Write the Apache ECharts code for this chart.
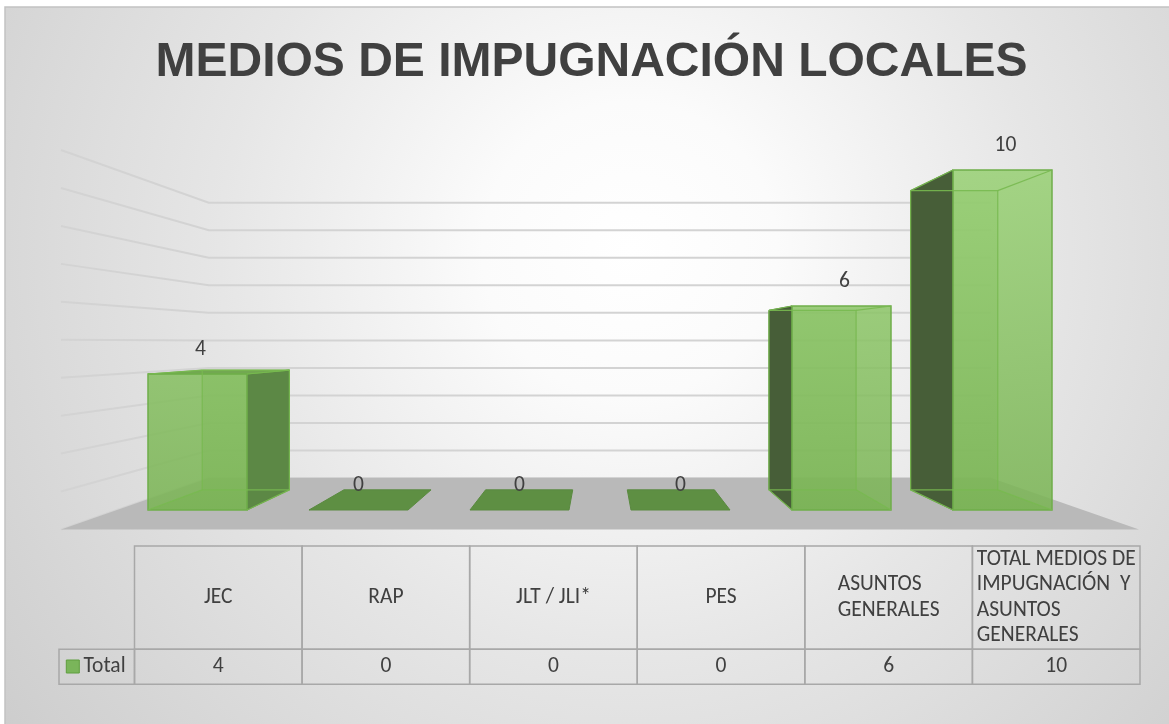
<!DOCTYPE html>
<html>
<head>
<meta charset="utf-8">
<script src="https://cdn.jsdelivr.net/npm/echarts@6/dist/echarts.min.js"></script>
<style>
html,body{margin:0;padding:0;background:#ffffff;}
#c{width:1169px;height:724px;}
</style>
</head>
<body>
<div id="c"></div>
<script>
// ---------------- data ----------------
const chartTitle = 'MEDIOS DE IMPUGNACIÓN LOCALES';
const categories = ['JEC', 'RAP', 'JLT / JLI*', 'PES', 'ASUNTOS GENERALES', 'TOTAL MEDIOS DE IMPUGNACIÓN  Y ASUNTOS GENERALES'];
const tableLabels = ['JEC', 'RAP', 'JLT / JLI*', 'PES', 'ASUNTOS\nGENERALES', 'TOTAL MEDIOS DE\nIMPUGNACIÓN  Y\nASUNTOS\nGENERALES'];
const seriesName = 'Total';
const totals = [4, 0, 0, 0, 6, 10];
const gridTicks = [0, 1, 2, 3, 4, 5, 6, 7, 8, 9, 10];

// ---------------- style / layout ----------------
const BODY_FONT_FAMILY = 'Carlito, Lato, "Open Sans", sans-serif';
const BODY_SIZE = 21.5;
const TEXT_COLOR = '#404040';
const DEPTH_WALL = 0.81;   // back wall depth scale
const DEPTH_BAR_BACK = 0.88;
const DEPTH_FLOOR_FRONT = 1.116;
const BAR_RATIO = 0.615;
const VP_DY = 2;
const TABLE = { legendLeft: 59, left: 134.5, right: 1140, top: 546, rowSep: 649.3, bottom: 684.3, lineH: 25.5 };

const chart = echarts.init(document.getElementById('c'), null, { renderer: 'canvas' });

function vpOf(cs) { return [cs.x + cs.width / 2, cs.y + cs.height / 2 + VP_DY]; }
function proj(vp, x, y, s) { return [vp[0] + s * (x - vp[0]), vp[1] + s * (y - vp[1])]; }

function renderGridline(params, api) {
  const cs = params.coordSys;
  const vp = vpOf(cs);
  const y = api.coord([0, api.value(1)])[1];
  const a = proj(vp, cs.x + cs.width, y, DEPTH_WALL);
  const b = proj(vp, cs.x, y, DEPTH_WALL);
  const c = proj(vp, cs.x, y, DEPTH_FLOOR_FRONT);
  return {
    type: 'polyline',
    shape: { points: [a, b, c] },
    style: { stroke: '#d3d3d3', lineWidth: 2, fill: null }
  };
}

function renderFloor(params, api) {
  const cs = params.coordSys;
  const vp = vpOf(cs);
  const y0 = api.coord([0, 0])[1];
  const xl = cs.x, xr = cs.x + cs.width;
  return {
    type: 'polygon',
    shape: { points: [proj(vp, xl, y0, DEPTH_WALL), proj(vp, xr, y0, DEPTH_WALL), proj(vp, xr, y0, DEPTH_FLOOR_FRONT), proj(vp, xl, y0, DEPTH_FLOOR_FRONT)] },
    style: { fill: '#b9b9b9' }
  };
}

function renderBar(params, api) {
  const cs = params.coordSys;
  const vp = vpOf(cs);
  const i = api.value(0), v = api.value(1);
  const top = api.coord([i, v]);
  const base = api.coord([i, 0]);
  const bw = api.size([1, 0])[0] * BAR_RATIO;
  const xl = top[0] - bw / 2, xr = top[0] + bw / 2, yt = top[1], yb = base[1];
  const F = { tl: [xl, yt], tr: [xr, yt], br: [xr, yb], bl: [xl, yb] };
  const B = {
    tl: proj(vp, xl, yt, DEPTH_BAR_BACK), tr: proj(vp, xr, yt, DEPTH_BAR_BACK),
    br: proj(vp, xr, yb, DEPTH_BAR_BACK), bl: proj(vp, xl, yb, DEPTH_BAR_BACK)
  };
  const children = [];
  const edge = '#6fae4a';
  if (v === 0) {
    children.push({ type: 'polygon', shape: { points: [F.bl, F.br, B.br, B.bl] }, style: { fill: '#5e8f43', stroke: '#5a8a40', lineWidth: 1 } });
  } else {
    children.push({ type: 'polygon', shape: { points: [B.tl, B.tr, B.br, B.bl] }, style: { fill: 'rgba(120,180,85,0.55)', stroke: null } });
    children.push({ type: 'polygon', shape: { points: [F.bl, F.br, B.br, B.bl] }, style: { fill: 'rgba(110,170,75,0.6)', stroke: null } });
    if (xr < vp[0]) {
      children.push({ type: 'polygon', shape: { points: [F.tr, B.tr, B.br, F.br] }, style: { fill: '#5c8845', stroke: '#5e9142', lineWidth: 1 } });
    } else if (xl > vp[0]) {
      children.push({ type: 'polygon', shape: { points: [B.tl, F.tl, F.bl, B.bl] }, style: { fill: '#475e38', stroke: '#4f7a3a', lineWidth: 1 } });
    }
    if (yt > vp[1]) {
      children.push({ type: 'polygon', shape: { points: [F.tl, F.tr, B.tr, B.tl] }, style: { fill: '#72a851', stroke: edge, lineWidth: 1 } });
    }
    children.push({
      type: 'polygon', shape: { points: [F.tl, F.tr, F.br, F.bl] },
      style: {
        fill: new echarts.graphic.LinearGradient(0, cs.y, 0, cs.y + cs.height, [
          { offset: 0, color: 'rgba(152,208,116,0.86)' },
          { offset: 1, color: 'rgba(122,180,84,0.86)' }
        ], true),
        stroke: edge, lineWidth: 1.5
      }
    });
    const hid = { stroke: 'rgba(120,185,80,0.9)', lineWidth: 1.2, fill: null };
    children.push({ type: 'polyline', shape: { points: [B.tl, B.tr, B.br, B.bl, B.tl] }, style: hid });
    children.push({ type: 'line', shape: { x1: F.bl[0], y1: F.bl[1], x2: B.bl[0], y2: B.bl[1] }, style: hid });
    children.push({ type: 'line', shape: { x1: F.br[0], y1: F.br[1], x2: B.br[0], y2: B.br[1] }, style: hid });
    children.push({ type: 'line', shape: { x1: F.tl[0], y1: F.tl[1], x2: B.tl[0], y2: B.tl[1] }, style: hid });
    children.push({ type: 'line', shape: { x1: F.tr[0], y1: F.tr[1], x2: B.tr[0], y2: B.tr[1] }, style: hid });
  }
  children.push({
    type: 'text',
    style: {
      text: String(v), x: top[0] + (v === 0 ? 0 : 3), y: yt - 24, align: 'center', verticalAlign: 'middle',
      font: BODY_SIZE + 'px ' + BODY_FONT_FAMILY, fill: TEXT_COLOR
    }
  });
  return { type: 'group', children: children };
}

// ---------------- table (graphic) ----------------
const measureCtx = document.createElement('canvas').getContext('2d');
measureCtx.font = BODY_SIZE + 'px ' + BODY_FONT_FAMILY;
const colW = (TABLE.right - TABLE.left) / categories.length;
const tableEls = [];
const cellStyle = { fill: null, stroke: '#a8a8a8', lineWidth: 1.5 };
tableEls.push({ type: 'rect', shape: { x: TABLE.legendLeft, y: TABLE.rowSep, width: TABLE.left - TABLE.legendLeft, height: TABLE.bottom - TABLE.rowSep }, style: cellStyle, z: 100 });
tableEls.push({ type: 'rect', shape: { x: 66.3, y: 660, width: 13, height: 13 }, style: { fill: '#7ab55a', stroke: '#5f9e3e', lineWidth: 1 }, z: 101 });
tableEls.push({ type: 'text', style: { text: seriesName, x: 83.5, y: (TABLE.rowSep + TABLE.bottom) / 2, align: 'left', verticalAlign: 'middle', font: BODY_SIZE + 'px ' + BODY_FONT_FAMILY, fill: TEXT_COLOR }, z: 101 });
tableLabels.forEach((lab, k) => {
  const x0 = TABLE.left + k * colW;
  tableEls.push({ type: 'rect', shape: { x: x0, y: TABLE.top, width: colW, height: TABLE.rowSep - TABLE.top }, style: cellStyle, z: 100 });
  tableEls.push({ type: 'rect', shape: { x: x0, y: TABLE.rowSep, width: colW, height: TABLE.bottom - TABLE.rowSep }, style: cellStyle, z: 100 });
  const lines = lab.split('\n');
  const maxW = Math.max.apply(null, lines.map(l => measureCtx.measureText(l).width));
  tableEls.push({
    type: 'text',
    style: {
      text: lab, x: x0 + colW / 2 - maxW / 2, y: (TABLE.top + TABLE.rowSep) / 2,
      align: 'left', verticalAlign: 'middle', lineHeight: TABLE.lineH,
      font: BODY_SIZE + 'px ' + BODY_FONT_FAMILY, fill: TEXT_COLOR
    }, z: 101
  });
  tableEls.push({
    type: 'text',
    style: {
      text: String(totals[k]), x: x0 + colW / 2, y: (TABLE.rowSep + TABLE.bottom) / 2,
      align: 'center', verticalAlign: 'middle',
      font: BODY_SIZE + 'px ' + BODY_FONT_FAMILY, fill: TEXT_COLOR
    }, z: 101
  });
});

const bgRect = {
  type: 'rect', z: -100,
  shape: { x: 5, y: 7, width: 1200, height: 760 },
  style: {
    fill: new echarts.graphic.RadialGradient(630, 250, 820, [
      { offset: 0, color: '#ffffff' },
      { offset: 0.18, color: '#fbfbfb' },
      { offset: 0.5, color: '#e6e6e6' },
      { offset: 1, color: '#cbcbcb' }
    ], true),
    stroke: '#c2c2c2', lineWidth: 1.5
  }
};

const titleEl = {
  type: 'text', z: 100,
  style: {
    text: chartTitle, x: 591.5, y: 63, align: 'center', verticalAlign: 'middle',
    font: 'bold 48px "Liberation Sans", Arial, sans-serif', fill: TEXT_COLOR
  }
};

const option = {
  animation: false,
  graphic: { elements: [bgRect, titleEl].concat(tableEls) },
  grid: { left: 117, right: 86, top: 170, bottom: 214 },
  xAxis: { type: 'category', data: categories, show: false },
  yAxis: { type: 'value', min: 0, max: 10, interval: 1, show: false },
  series: [
    { type: 'custom', name: 'walls', z: 1, silent: true, data: gridTicks.map(t => [0, t]), renderItem: renderGridline },
    { type: 'custom', name: 'floor', z: 2, silent: true, data: [[0, 0]], renderItem: renderFloor },
    { type: 'custom', name: seriesName, z: 3, data: totals.map((t, i) => [i, t]), renderItem: renderBar }
  ]
};
chart.setOption(option);
</script>
</body>
</html>
